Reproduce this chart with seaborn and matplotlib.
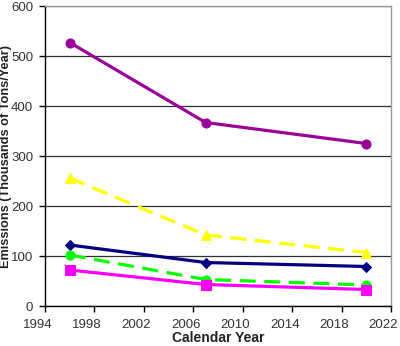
import matplotlib
matplotlib.use("Agg")
import matplotlib.pyplot as plt
import matplotlib.transforms as mtransforms
import seaborn as sns
import pandas as pd

years = [1996, 2007, 2020]
purple = [527, 367, 325]
yellow = [256, 142, 107]
navy = [122, 87, 79]
green = [102, 53, 42]
magenta = [72, 43, 33]

series_names = ["Purple", "Yellow", "Navy", "Green", "Magenta"]
series_values = [purple, yellow, navy, green, magenta]
colors = ["#990099", "#FFFF00", "#000080", "#00FF00", "#FF00FF"]
markers = ["o", "^", "D", "o", "s"]
markersizes = [6.5, 7.5, 5.5, 6.5, 6.5]
linestyles = ["-", (0, (5, 2.7)), "-", (0, (5, 2.7)), "-"]

x_ticks = [1994, 1998, 2002, 2006, 2010, 2014, 2018, 2022]
y_ticks = [0, 100, 200, 300, 400, 500, 600]

rows = []
for name, vals in zip(series_names, series_values):
    for yr, v in zip(years, vals):
        rows.append({"year": yr, "value": v, "series": name})
df = pd.DataFrame(rows)

sns.set_style("white")
plt.rcParams["font.family"] = ["Liberation Sans", "DejaVu Sans"]

fig = plt.figure(figsize=(4.0, 3.46), dpi=100)
ax = fig.add_axes([0.1125, 0.1156, 0.865, 0.867])

for name, c, m, ms, ls in zip(series_names, colors, markers, markersizes, linestyles):
    sub = df[df["series"] == name]
    sns.lineplot(data=sub, x="year", y="value", ax=ax, color=c, marker=m,
                 markersize=ms, markeredgecolor=c, linewidth=2.3, linestyle=ls,
                 legend=False, zorder=3)

ax.set_xlim(1994, 2022)
ax.set_ylim(0, 600)
ax.set_xticks(x_ticks)
ax.set_yticks(y_ticks)
ax.yaxis.grid(True, color="#303030", linewidth=0.9)
ax.xaxis.grid(False)
ax.set_axisbelow(True)

for s in ["top", "right"]:
    ax.spines[s].set_color("#9a9a9a")
    ax.spines[s].set_linewidth(1.0)
for s in ["left", "bottom"]:
    ax.spines[s].set_color("#000000")
    ax.spines[s].set_linewidth(1.0)

ax.tick_params(axis="both", which="major", direction="out", length=4.5, width=1,
               color="#000000", labelsize=9.5, labelcolor="#333333", left=True, bottom=True)
ax.tick_params(axis="x", pad=4.5)
ax.tick_params(axis="y", pad=4)

shift = mtransforms.ScaledTranslation(-0.075, 0, fig.dpi_scale_trans)
for lab in ax.get_xticklabels():
    lab.set_transform(lab.get_transform() + shift)

ax.set_xlabel("Calendar Year", fontsize=10, fontweight="bold", color="#222222")
ax.xaxis.set_label_coords(0.5, -0.083)
ax.set_ylabel("Emissions (Thousands of Tons/Year)", fontsize=9.2, fontweight="bold",
              color="#222222")
ax.yaxis.set_label_coords(-0.096, 0.5)

fig.savefig("out.png", dpi=100)
